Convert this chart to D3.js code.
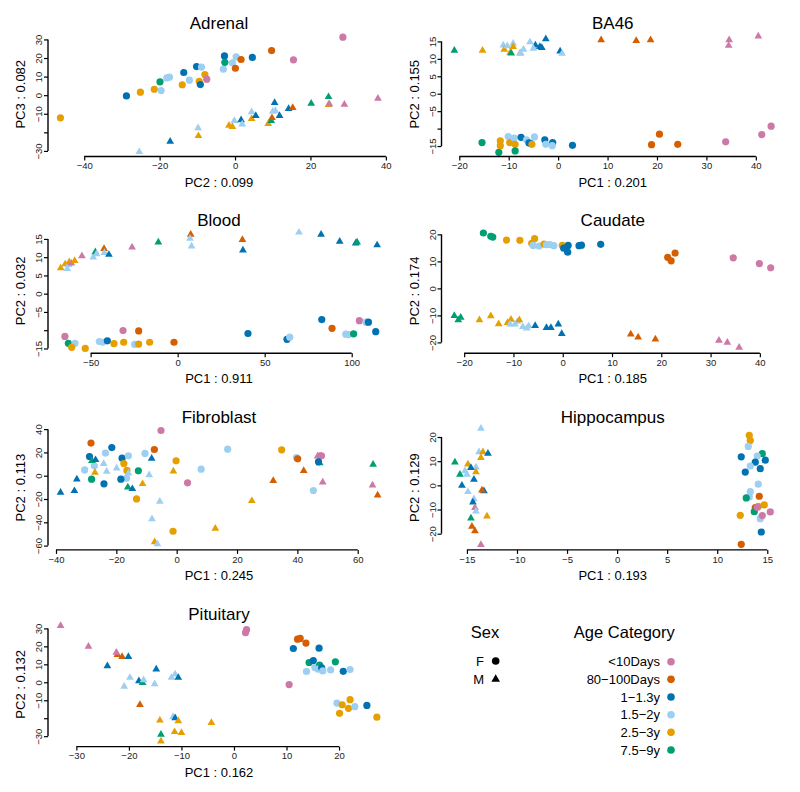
<!DOCTYPE html>
<html><head><meta charset="utf-8">
<script src="https://cdn.jsdelivr.net/npm/d3@7"></script>
<style>
html,body{margin:0;padding:0;background:#fff;}
svg{display:block;font-family:"Liberation Sans",Arial,Helvetica,sans-serif;}
</style></head>
<body>
<svg id="chart" width="800" height="792"></svg>
<script>
// ---------- categories ----------
const ageCategories = ["<10Days", "80\u2212100Days", "1\u22121.3y", "1.5\u22122y", "2.5\u22123y", "7.5\u22129y"];
const ageColors = ["#CC79A7", "#D55E00", "#0072B2", "#9DCFF2", "#E69F00", "#009E73"];
const sexLevels = ["F", "M"];

// ---------- panels ----------
const panelNames = ["Adrenal", "BA46", "Blood", "Caudate", "Fibroblast", "Hippocampus", "Pituitary"];
const xLabels = ["PC2 : 0.099", "PC1 : 0.201", "PC1 : 0.911", "PC1 : 0.185", "PC1 : 0.245", "PC1 : 0.193", "PC1 : 0.162"];
const yLabels = ["PC3 : 0.082", "PC2 : 0.155", "PC2 : 0.032", "PC2 : 0.174", "PC2 : 0.113", "PC2 : 0.129", "PC2 : 0.132"];
const xDomains = [[-49.6, 41.1], [-23.6, 45.7], [-74.5, 122], [-24.6, 44.9], [-42.65, 70.7], [-17.54, 16.67], [-35.4, 29.7]];
const yDomains = [[-33.0, 34.0], [-18.0, 17.7], [-16.3, 17.8], [-24.0, 22.1], [-63.7, 43.2], [-26.7, 24.8], [-35.8, 33.5]];
const xTicks = [
  [-40, -20, 0, 20, 40],
  [-20, -10, 0, 10, 20, 30, 40],
  [-50, 0, 50, 100],
  [-20, -10, 0, 10, 20, 30, 40],
  [-40, -20, 0, 20, 40, 60],
  [-15, -10, -5, 0, 5, 10, 15],
  [-30, -20, -10, 0, 10, 20]
];
const yTicks = [
  [-30, -20, -10, 0, 10, 20, 30],
  [-15, -10, -5, 0, 5, 10, 15],
  [-15, -10, -5, 0, 5, 10, 15],
  [-20, -10, 0, 10, 20],
  [-60, -40, -20, 0, 20, 40],
  [-20, -10, 0, 10, 20],
  [-30, -20, -10, 0, 10, 20, 30]
];
// tick labels R dropped because they overlapped
const yTicksUnlabelled = [[-20], [-10], [-10], [], [], [], [-20]];

// ---------- data: [x, y, ageIndex] ----------
const adrenalF = [[-46.3,-12.2,4],[-28.8,-0.4,2],[-25.1,1.6,4],[-21.4,3.2,4],[-19.6,2.5,3],[-19.9,7.2,5],[-18.1,9.3,3],[-17.4,9.7,3],[-14.0,5.6,4],[-13.6,12.2,2],[-12.1,8.1,3],[-10.2,15.4,2],[-8.9,15.1,3],[-9.5,7.5,4],[-9.2,5.7,2],[-8.0,11.1,4],[-7.5,8.6,0],[-2.8,21.1,2],[-3.1,14.0,3],[-0.7,17.4,3],[-2.7,17.7,5],[0.3,20.6,3],[0.1,14.5,1],[1.6,19.2,1],[4.6,20.3,2],[9.7,24.0,1],[15.5,19.0,0],[28.6,31.2,0]];
const adrenalM = [[-25.4,-30.5,3],[-17.2,-24.9,2],[-9.8,-17.7,3],[-9.7,-21.9,4],[-1.6,-16.3,4],[-0.7,-17.0,4],[-0.2,-13.8,3],[1.6,-13.3,2],[1.9,-15.6,3],[4.4,-9.1,3],[4.4,-12.7,4],[5.5,-11.1,2],[8.8,-15.4,4],[9.6,-13.8,5],[9.8,-12.2,1],[10.0,-8.8,3],[10.7,-8.4,3],[10.5,-4.1,2],[11.8,-11.1,2],[14.2,-7.3,2],[15.3,-6.8,1],[20.2,-4.5,5],[24.8,-5.2,4],[25.0,-4.7,0],[24.8,-0.9,5],[29.0,-5.0,0],[37.9,-1.8,0]];

const ba46F = [[-15.4,-14.0,5],[-12.0,-16.8,5],[-11.7,-13.5,4],[-11.7,-14.9,4],[-10.1,-12.3,3],[-9.8,-14.0,4],[-8.9,-12.7,3],[-8.7,-14.5,4],[-8.7,-16.4,5],[-7.5,-12.5,2],[-6.4,-13.2,3],[-5.9,-14.1,2],[-5.5,-14.3,2],[-5.3,-14.5,4],[-4.8,-12.4,3],[-2.7,-13.2,2],[-2.5,-14.5,3],[-1.1,-14.0,2],[-1.2,-14.9,3],[2.9,-14.8,2],[18.9,-14.6,1],[20.5,-11.6,1],[24.2,-14.5,1],[33.9,-13.8,0],[41.2,-11.7,0],[43.1,-9.3,0]];
const ba46M = [[-21.0,12.4,5],[-15.3,12.4,4],[-11.1,13.9,3],[-10.9,12.7,4],[-10.3,13.7,3],[-9.1,14.4,3],[-9.1,13.5,4],[-9.7,11.8,4],[-9.5,11.6,5],[-7.7,11.6,4],[-7.0,12.7,3],[-7.6,11.7,3],[-5.7,14.8,3],[-4.6,13.9,2],[-5.0,13.0,3],[-3.7,13.5,2],[-3.3,13.2,2],[-2.5,15.7,2],[0.4,12.2,2],[0.8,11.5,3],[8.7,15.4,1],[15.8,15.2,1],[18.7,15.4,1],[34.5,13.8,0],[34.6,15.4,0],[40.5,16.5,0]];

const bloodF = [[-64.8,-11.7,0],[-62.8,-13.6,5],[-59.0,-13.6,3],[-60.9,-14.7,4],[-53.1,-15.0,4],[-45.0,-13.1,3],[-43.1,-13.3,3],[-40.4,-12.9,2],[-36.6,-13.7,4],[-31.4,-10.1,0],[-31.0,-13.3,4],[-24.7,-13.9,3],[-22.4,-13.8,4],[-22.4,-10.2,1],[-16.1,-13.3,4],[-2.1,-13.3,1],[40.4,-10.9,2],[62.8,-12.5,2],[64.4,-11.9,3],[82.8,-7.1,2],[88.7,-9.5,1],[96.6,-11.1,3],[98.3,-11.2,3],[101.1,-11.0,5],[104.4,-7.4,0],[108.2,-7.8,3],[109.6,-7.8,2],[113.8,-10.4,2]];
const bloodM = [[-67.2,7.0,4],[-64.6,8.1,4],[-63.4,6.8,3],[-62.6,7.9,3],[-62.3,8.7,4],[-61.1,8.3,0],[-59.2,9.0,4],[-55.0,10.3,0],[-48.5,10.0,3],[-47.3,11.4,5],[-46.6,10.9,3],[-42.3,12.3,1],[-42.1,11.2,3],[-39.5,10.7,2],[-26.2,12.7,0],[-11.1,14.1,5],[7.5,16.2,1],[7.1,15.1,3],[8.0,13.0,3],[37.2,14.8,1],[37.5,11.9,2],[69.7,16.8,3],[82.4,16.2,2],[93.1,14.3,2],[102.3,13.8,2],[103.1,14.1,5],[114.6,13.3,2]];

const caudateF = [[-16.1,20.5,5],[-14.6,19.3,5],[-14.2,19.0,5],[-11.4,17.9,4],[-8.7,17.8,4],[-5.7,18.4,4],[-6.3,16.7,4],[-6.0,15.9,3],[-4.8,15.7,3],[-3.8,16.4,4],[-3.3,16.2,3],[-2.6,16.2,3],[-1.8,15.8,3],[-0.1,15.9,4],[0.2,14.9,2],[1.0,13.4,2],[1.1,15.9,2],[3.3,15.8,2],[3.8,16.0,2],[7.7,16.3,2],[21.3,11.5,1],[22.0,10.2,1],[22.8,13.1,1],[34.6,11.3,0],[39.9,9.2,0],[42.2,7.6,0]];
const caudateM = [[-22.0,-10.1,5],[-21.2,-11.7,5],[-20.7,-10.8,5],[-16.9,-11.7,4],[-14.6,-10.2,4],[-13.0,-13.2,4],[-11.2,-12.7,4],[-10.5,-11.5,4],[-10.7,-13.3,3],[-9.7,-13.3,3],[-9.2,-12.3,3],[-8.8,-11.7,4],[-8.1,-14.2,3],[-7.3,-14.8,3],[-6.9,-13.9,3],[-5.6,-13.8,2],[-3.3,-14.6,2],[-2.4,-14.6,2],[-0.9,-13.3,2],[-0.2,-16.8,2],[13.8,-17.0,1],[15.3,-18.1,1],[18.8,-18.8,1],[31.7,-19.3,0],[33.4,-20.0,0],[35.8,-21.9,0]];

const fibroblastF = [[-28.4,28.0,1],[-28.9,16.5,2],[-30.5,5.0,3],[-27.3,8.5,3],[-28.2,-3.0,5],[-23.6,19.4,3],[-21.5,24.2,2],[-24.1,-7.0,2],[-18.1,15.1,2],[-17.5,10.5,4],[-16.0,17.1,3],[-16.5,4.5,4],[-16.6,-2.1,3],[-18.5,-3.0,2],[-12.7,4.2,5],[-10.5,19.1,3],[-13.3,-19.9,4],[-7.4,22.5,1],[-5.2,38.8,0],[-0.2,12.8,4],[3.6,-6.1,0],[8.1,5.6,3],[-1.2,-47.7,4],[16.9,22.8,3],[34.8,22.2,4],[39.7,15.6,3],[40.1,14.5,1],[47.5,17.1,0],[48.0,17.1,0],[45.3,-12.7,3]];
const fibroblastM = [[-38.5,-14.4,2],[-33.9,-13.0,2],[-33.1,-3.0,2],[-28.1,12.8,5],[-26.9,13.6,2],[-27.1,2.7,4],[-24.2,10.2,3],[-23.2,3.6,3],[-19.9,6.5,3],[-16.0,2.2,3],[-16.2,-9.9,5],[-14.7,-11.3,2],[-11.3,-7.0,4],[-9.1,0.7,3],[-8.3,14.8,2],[-5.6,-22.2,3],[-8.2,-37.1,3],[-7.3,-56.9,4],[-6.4,-58.6,3],[-1.1,3.9,4],[12.8,-45.4,4],[24.9,-21.6,4],[32.0,-4.4,1],[42.1,4.2,1],[47.4,11.0,5],[46.7,16.8,0],[48.4,-5.6,0],[65.1,9.6,5],[64.9,-8.2,0],[66.6,-16.8,1]];
const fibroblastTopF = [[47.0,11.9,2]];

const hippocampusF = [[13.2,20.7,4],[13.3,18.6,4],[13.1,16.1,3],[12.4,11.8,2],[14.5,13.1,5],[14.0,12.1,3],[13.8,9.6,2],[14.8,10.4,2],[13.3,8.0,3],[12.8,5.5,2],[14.3,6.9,2],[14.1,0.5,3],[13.3,-2.6,3],[13.2,-4.8,3],[12.9,-5.2,5],[14.2,-4.5,1],[14.7,-8.1,4],[14.1,-8.7,4],[13.8,-9.2,1],[13.7,-10.9,5],[14.0,-9.1,0],[12.3,-12.4,4],[14.3,-13.8,3],[14.5,-12.5,0],[15.3,-11.0,0],[14.4,-19.3,2],[12.4,-24.4,1]];
const hippocampusM = [[-13.6,23.5,3],[-13.8,13.8,3],[-13.4,13.8,4],[-12.9,13.2,2],[-13.6,11.4,4],[-16.2,9.6,5],[-14.9,8.7,4],[-14.1,7.5,3],[-14.6,7.3,2],[-15.2,5.9,3],[-14.1,5.5,4],[-15.7,4.5,5],[-15.0,4.5,3],[-14.3,2.4,2],[-15.5,-0.1,2],[-14.9,-2.7,3],[-13.3,-2.3,2],[-13.5,-2.0,1],[-14.3,-5.6,3],[-14.4,-7.0,2],[-14.2,-9.3,0],[-14.1,-10.7,3],[-13.0,-12.8,4],[-14.6,-13.6,5],[-14.5,-17.0,1],[-14.2,-18.9,1],[-13.6,-24.6,0]];

const pituitaryF = [[2.4,29.3,0],[2.2,27.6,0],[10.5,-1.3,0],[12.1,24.0,1],[12.6,24.4,1],[13.7,21.8,1],[11.3,18.8,2],[16.2,19.0,2],[14.3,11.0,5],[15.1,12.1,2],[13.8,6.0,3],[15.4,8.2,3],[16.3,9.5,5],[16.0,7.3,3],[16.7,8.0,2],[16.9,6.3,3],[18.4,6.9,3],[19.3,11.4,5],[20.8,6.1,2],[22.1,7.1,3],[19.6,-11.6,3],[20.6,-12.5,4],[22.1,-9.7,4],[21.8,-14.5,4],[23.0,-13.6,3],[20.1,-17.3,4],[25.3,-12.9,2],[27.2,-19.4,4]];
const pituitaryM = [[-33.0,31.5,0],[-27.7,19.9,0],[-22.2,15.3,1],[-22.4,16.6,0],[-21.3,14.2,1],[-20.1,14.2,2],[-24.1,9.1,2],[-19.8,2.6,3],[-20.9,-2.4,3],[-18.1,0.7,2],[-17.4,-0.2,5],[-17.2,1.3,3],[-15.1,-0.9,3],[-14.8,7.3,2],[-11.9,2.6,3],[-11.2,4.5,3],[-10.6,2.6,2],[-17.9,-12.5,1],[-11.6,-19.2,3],[-11.2,-19.9,2],[-14.1,-21.2,4],[-10.6,-21.6,4],[-4.3,-22.5,4],[-11.3,-27.6,4],[-10.0,-28.1,4],[-13.9,-29.1,5],[-13.9,-32.8,4]];

// layers drawn in order: [points, sex]
const panelLayers = [
  [[adrenalF, "F"], [adrenalM, "M"]],
  [[ba46F, "F"], [ba46M, "M"]],
  [[bloodF, "F"], [bloodM, "M"]],
  [[caudateF, "F"], [caudateM, "M"]],
  [[fibroblastF, "F"], [fibroblastM, "M"], [fibroblastTopF, "F"]],
  [[hippocampusF, "F"], [hippocampusM, "M"]],
  [[pituitaryF, "F"], [pituitaryM, "M"]]
];

// ---------- layout ----------
const svg = d3.select("#chart");
const colX = [[48, 390], [441.5, 784]];
const rowTop0 = 32, rowBottom0 = 156.5, rowPitch = 196.7;
const circleR = 3.6;
const triPath = d3.symbol().type(d3.symbolTriangle).size(26)();
const tickFont = 9.5;

panelNames.forEach((name, i) => {
  const col = i % 2, row = Math.floor(i / 2);
  const [L, R] = colX[col];
  const T = rowTop0 + row * rowPitch, B = rowBottom0 + row * rowPitch;
  const x = d3.scaleLinear().domain(xDomains[i]).range([L, R]);
  const y = d3.scaleLinear().domain(yDomains[i]).range([B, T]);
  const g = svg.append("g");
  const fmt = v => (v < 0 ? "\u2212" + Math.abs(v) : String(v));

  // points
  panelLayers[i].forEach(([pts, sex]) => {
    const sel = g.append("g").selectAll("path").data(pts).join("path")
      .attr("fill", d => ageColors[d[2]]);
    if (sex === "F") {
      sel.attr("d", d3.symbol().type(d3.symbolCircle).size(Math.PI * circleR * circleR)())
        .attr("transform", d => `translate(${x(d[0])},${y(d[1])})`);
    } else {
      sel.attr("d", triPath)
        .attr("transform", d => `translate(${x(d[0])},${y(d[1])})`);
    }
  });

  // x axis
  const xt = xTicks[i];
  const xa = g.append("g").attr("transform", `translate(0,${B})`)
    .call(d3.axisBottom(x).tickValues(xt).tickSize(4).tickSizeOuter(0).tickPadding(2).tickFormat(fmt));
  xa.select(".domain").attr("d", `M${x(xt[0])},0H${x(xt[xt.length - 1])}`).attr("stroke-width", 1.4);
  xa.selectAll(".tick line").attr("stroke-width", 1.2);
  xa.selectAll("text").attr("font-size", tickFont).attr("font-family", "Liberation Sans, Arial, sans-serif").attr("fill", "#222");

  // y axis
  const yt = yTicks[i];
  const hidden = yTicksUnlabelled[i];
  const ya = g.append("g").attr("transform", `translate(${L},0)`)
    .call(d3.axisLeft(y).tickValues(yt).tickSize(4).tickSizeOuter(0).tickFormat(v => hidden.includes(v) ? "" : fmt(v)));
  ya.select(".domain").attr("d", `M0,${y(yt[0])}V${y(yt[yt.length - 1])}`).attr("stroke-width", 1.4);
  ya.selectAll(".tick line").attr("stroke-width", 1.2);
  ya.selectAll("text")
    .attr("x", null).attr("dy", null)
    .attr("text-anchor", "middle")
    .attr("transform", "translate(-6,0) rotate(-90)")
    .attr("font-size", tickFont).attr("font-family", "Liberation Sans, Arial, sans-serif").attr("fill", "#222");

  // titles
  g.append("text").attr("x", (L + R) / 2).attr("y", T - 2.6)
    .attr("text-anchor", "middle").attr("font-size", 17).attr("fill", "#000").text(name);
  g.append("text").attr("x", (L + R) / 2).attr("y", B + 30)
    .attr("text-anchor", "middle").attr("font-size", 13).attr("fill", "#000").text(xLabels[i]);
  g.append("text").attr("transform", `translate(${L - 22.7},${(T + B) / 2}) rotate(-90)`)
    .attr("text-anchor", "middle").attr("font-size", 13).attr("fill", "#000").text(yLabels[i]);
});

// ---------- legends ----------
const lg = svg.append("g");
lg.append("text").attr("x", 485).attr("y", 637.5).attr("text-anchor", "middle").attr("font-size", 16.5).text("Sex");
lg.append("text").attr("x", 624.3).attr("y", 637.5).attr("text-anchor", "middle").attr("font-size", 16.5).text("Age Category");

const sexY = d3.scalePoint().domain(sexLevels).range([661, 679.3]);
sexLevels.forEach(s => {
  lg.append("text").attr("x", 484).attr("y", sexY(s) + 4.6).attr("text-anchor", "end").attr("font-size", 13).text(s);
  lg.append("path")
    .attr("d", s === "F" ? d3.symbol().type(d3.symbolCircle).size(Math.PI * 3.8 * 3.8)() : d3.symbol().type(d3.symbolTriangle).size(32)())
    .attr("transform", `translate(495.7,${sexY(s)})`).attr("fill", "#000");
});

const ageY = d3.scalePoint().domain(ageCategories).range([661.7, 750]);
ageCategories.forEach((a, k) => {
  lg.append("text").attr("x", 660).attr("y", ageY(a) + 4.6).attr("text-anchor", "end").attr("font-size", 13).text(a);
  lg.append("circle").attr("cx", 671).attr("cy", ageY(a)).attr("r", 3.8).attr("fill", ageColors[k]);
});
</script>
</body></html>
